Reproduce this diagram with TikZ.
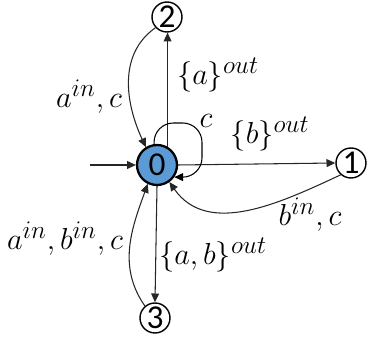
\documentclass[tikz,border=0pt]{standalone}
\usepackage{amsmath,amssymb}
\usepackage{fontspec}
\newfontfamily\digitfont{Carlito}
\usepackage{tikz}
\usetikzlibrary{arrows.meta,positioning,calc}
\definecolor{stateblue}{RGB}{91,155,213}

\begin{document}
\begin{tikzpicture}[x=0.02cm,y=0.02cm,>={Triangle[length=5pt,width=4.5pt]},
  state/.style={circle,draw=black,line width=0.8pt,inner sep=0pt,minimum size=0.6cm,
    font=\digitfont\fontsize{19}{22}\selectfont},
  initstate/.style={state,fill=stateblue,line width=1.3pt,minimum size=0.8cm},
  edge/.style={->,draw=black!85,line width=0.6pt},
  lab/.style={font=\fontsize{19}{22}\selectfont}]
  \useasboundingbox (0,0) rectangle (370,-337);
  % states
  \node[initstate] (q0) at (157,-165) {0};
  \node[state] (q1) at (351,-163) {1};
  \node[state] (q2) at (167,-17) {2};
  \node[state] (q3) at (155,-318) {3};
  \coordinate (start) at (90,-165);
  \coordinate (loopc) at (202,-123);
  % transitions
  \draw[edge] (start) -- (q0.west);
  \draw[edge] (q0.60) -- (q0.60 |- q2.south);
  \draw[edge] (q0.east) -- (q1.west);
  \draw[edge] (q0.south) -- (q3.north);
  \draw[edge] (q2.223) to[out=215,in=115] (q0.122);
  \draw[edge] (q3.130) to[out=125,in=250] (q0.244);
  \draw[edge] (q1.229) to[out=205,in=-55] (q0.306);
  \draw[edge,draw=black,rounded corners=11pt] (q0.98) |- (loopc) |- (q0.-35);
  % labels
  \node[lab] (l20) at (89,-97) {$a^{in},c$};
  \node[lab] (l02) at (218,-75) {$\{a\}^{out}$};
  \node[lab] (l00) at (206,-121) {$c$};
  \node[lab] (l01) at (270,-134) {$\{b\}^{out}$};
  \node[lab] (l10) at (310,-215) {$b^{in},c$};
  \node[lab] (l30) at (65,-239) {$a^{in},b^{in},c$};
  \node[lab] (l03) at (213,-255) {$\{a,b\}^{out}$};
\end{tikzpicture}
\end{document}
